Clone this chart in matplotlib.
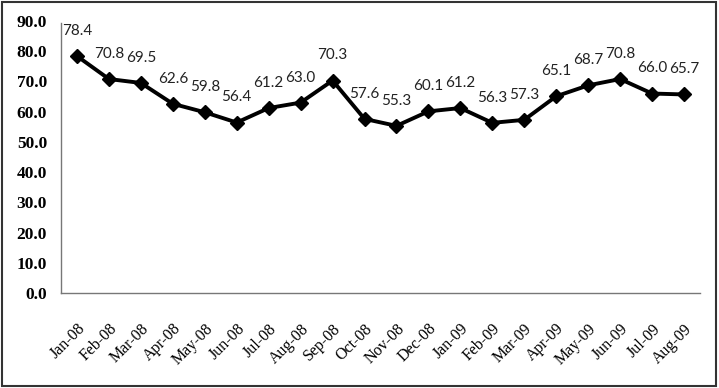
import matplotlib
matplotlib.use("Agg")
import matplotlib.pyplot as plt
from matplotlib.patches import Rectangle
import matplotlib.transforms as mtransforms

months = ["Jan-08", "Feb-08", "Mar-08", "Apr-08", "May-08", "Jun-08", "Jul-08", "Aug-08",
          "Sep-08", "Oct-08", "Nov-08", "Dec-08", "Jan-09", "Feb-09", "Mar-09", "Apr-09",
          "May-09", "Jun-09", "Jul-09", "Aug-09"]
values = [78.4, 70.8, 69.5, 62.6, 59.8, 56.4, 61.2, 63.0, 70.3, 57.6, 55.3, 60.1, 61.2,
          56.3, 57.3, 65.1, 68.7, 70.8, 66.0, 65.7]
yticks = [0, 10, 20, 30, 40, 50, 60, 70, 80, 90]

fig = plt.figure(figsize=(7.19, 3.88), dpi=100)
ax = fig.add_axes([61/719, 1 - 293/388, (700-61)/719, (293-21)/388])
x = list(range(len(months)))
ax.plot(x, values, color="black", lw=2.8, marker="D", markersize=7.5, zorder=3)
for xi, v in zip(x, values):
    ax.annotate(f"{v:.1f}", (xi, v), xytext=(0, 13), textcoords="offset points",
                ha="center", va="bottom", fontsize=11, family="Lato", color="#222222")
ax.set_xlim(-0.5, len(months) - 0.5)
ax.set_ylim(0, 90)
ax.set_yticks(yticks)
ax.set_yticklabels([f"{t:.1f}" for t in yticks], family="Liberation Serif",
                   fontweight="bold", fontsize=12.5)
ax.set_xticks(x)
ax.set_xticklabels(months, rotation=45, ha="right", va="top", rotation_mode="anchor",
                   family="Liberation Serif", fontsize=11.5)
offset = mtransforms.ScaledTranslation(6/72, 0, fig.dpi_scale_trans)
for lab in ax.get_xticklabels():
    lab.set_transform(lab.get_transform() + offset)
ax.tick_params(axis="y", length=0, pad=10)
ax.tick_params(axis="x", length=0, pad=20)
for s in ["top", "right"]:
    ax.spines[s].set_visible(False)
for s in ["left", "bottom"]:
    ax.spines[s].set_color("#777777")
    ax.spines[s].set_linewidth(1.0)
ax.spines["left"].set_bounds(0, 89.5)

fig.patches.append(Rectangle((2/719, 2/388), 714/719, 384/388, transform=fig.transFigure,
                             fill=False, edgecolor="#333333", lw=1.5))
fig.savefig("out.png", dpi=100)
